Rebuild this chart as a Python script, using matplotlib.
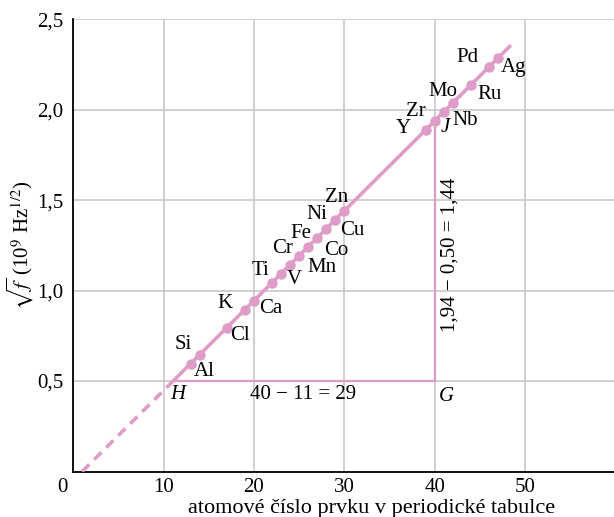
import matplotlib
matplotlib.use("Agg")
import matplotlib.pyplot as plt
import matplotlib.transforms as mtransforms

plt.rcParams['font.family'] = ['Liberation Serif', 'DejaVu Serif']
plt.rcParams['mathtext.fontset'] = 'stix'

PINK = '#DE9CC6'

elements = ['Al', 'Si', 'Cl', 'K', 'Ca', 'Ti', 'V', 'Cr', 'Mn', 'Fe', 'Co', 'Ni', 'Cu', 'Zn',
            'Y', 'Zr', 'Nb', 'Mo', 'Ru', 'Pd', 'Ag']
atomic_numbers = [13, 14, 17, 19, 20, 22, 23, 24, 25, 26, 27, 28, 29, 30,
                  39, 40, 41, 42, 44, 46, 47]
sqrt_f = [0.596, 0.646, 0.795, 0.895, 0.944, 1.044, 1.093, 1.143, 1.193, 1.243, 1.292,
          1.342, 1.392, 1.441, 1.889, 1.938, 1.988, 2.038, 2.137, 2.237, 2.286]

# label positions (data coords)
label_x = [14.5, 12.2, 18.5, 16.8, 21.8, 20.7, 24.5, 23.2, 27.5, 25.2, 29.1, 26.96, 30.9, 29.1,
           36.5, 37.9, 43.3, 40.9, 46.0, 43.6, 48.7]
label_y = [0.55, 0.704, 0.754, 0.93, 0.90, 1.11, 1.06, 1.235, 1.13, 1.317, 1.224, 1.423, 1.33, 1.517,
           1.898, 1.99, 1.94, 2.10, 2.085, 2.29, 2.235]

fit_solid_x = [11, 48.4]
fit_solid_y = [0.497, 2.356]
fit_dash_x = [1.0, 11]
fit_dash_y = [0.0, 0.497]

H = (11, 0.5)
G = (40, 0.5)
J = (40, 1.94)

xticks = [0, 10, 20, 30, 40, 50]
yticks = [0.5, 1.0, 1.5, 2.0, 2.5]
ytick_labels = ['0,5', '1,0', '1,5', '2,0', '2,5']

fig = plt.figure(figsize=(6.14, 5.17), dpi=100)
ax = fig.add_axes([0.119, 0.088, 0.881, 0.875])
ax.set_xlim(0, 59.8)
ax.set_ylim(0, 2.5)

ax.set_xticks(xticks)
ax.set_xticklabels([str(t) for t in xticks])
ax.set_yticks(yticks)
ax.set_yticklabels(ytick_labels)
ax.tick_params(length=0, labelsize=15)
ax.tick_params(axis='x', pad=5)
ax.tick_params(axis='y', pad=7)
ax.grid(True, color='#C8C8C8', lw=1.2)
ax.set_axisbelow(True)
for s in ['top', 'right']:
    ax.spines[s].set_visible(False)
for s in ['left', 'bottom']:
    ax.spines[s].set_linewidth(1.3)
    ax.spines[s].set_color('black')

# shift the "0" x tick label left of the corner, as in the reference
zero_lbl = ax.get_xticklabels()[0]
zero_lbl.set_transform(zero_lbl.get_transform() +
                       mtransforms.ScaledTranslation(-0.11, 0, fig.dpi_scale_trans))

# triangle
ax.plot([H[0], G[0]], [H[1], G[1]], color=PINK, lw=1.6, zorder=3)
ax.plot([G[0], J[0]], [G[1], J[1]], color=PINK, lw=1.6, zorder=3)

# fitted line
ax.plot(fit_solid_x, fit_solid_y, color=PINK, lw=2.6, solid_capstyle='butt', zorder=4)
ax.plot(fit_dash_x, fit_dash_y, color=PINK, lw=2.6, dashes=(2.8, 1.9), zorder=4)

ax.plot(atomic_numbers, sqrt_f, 'o', color=PINK, ms=6.5, zorder=5)

for name, lx, ly in zip(elements, label_x, label_y):
    ax.text(lx, ly, name, fontsize=15, ha='center', va='center', zorder=6)

ax.text(11.6, 0.423, 'H', fontsize=15, style='italic', ha='center', va='center')
ax.text(41.3, 0.417, 'G', fontsize=15, style='italic', ha='center', va='center')
ax.text(41.1, 1.90, 'J', fontsize=15, style='italic', ha='center', va='center')
ax.text(25.4, 0.423, '40 \u2212 11 = 29', fontsize=15, ha='center', va='center')
ax.text(41.7, 1.196, '1,94 \u2212 0,50 = 1,44', fontsize=15, ha='center', va='center',
        rotation=90)

ax.set_xlabel('atomov\u00e9 \u010d\u00edslo prvku v periodick\u00e9 tabulce', fontsize=16, labelpad=0)
ax.xaxis.set_label_coords(0.551, -0.060)
ax.set_ylabel(r'$\sqrt{f}$ (10$^9$ Hz$^{1/2}$)', fontsize=15)
ax.yaxis.set_label_coords(-0.068, 0.50)

fig.savefig('out.png', dpi=100)
